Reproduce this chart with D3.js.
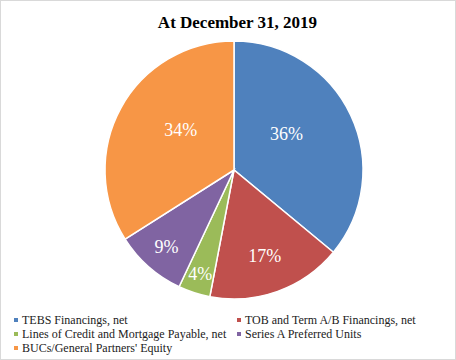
<!DOCTYPE html>
<html><head><meta charset="utf-8">
<script src="https://cdn.jsdelivr.net/npm/d3@7"></script>
<style>html,body{margin:0;padding:0;background:#fff;} text{font-family:"Liberation Serif","Times New Roman",serif;}</style>
</head><body>
<svg id="c" width="456" height="360"></svg>
<script>
const categories = ["TEBS Financings, net","TOB and Term A/B Financings, net","Lines of Credit and Mortgage Payable, net","Series A Preferred Units","BUCs/General Partners' Equity"];
const values = [36, 17, 4, 9, 34];
const colors = ["#4F81BD","#C0504D","#9BBB59","#8064A2","#F79646"];
const title = "At December 31, 2019";

const svg = d3.select("#c");
svg.append("rect").attr("x",0.5).attr("y",0.5).attr("width",455).attr("height",359)
  .attr("fill","#fff").attr("stroke","#d9d9d9");

svg.append("text").attr("x",237.5).attr("y",28).attr("text-anchor","middle")
  .attr("font-weight","bold").attr("font-size",17)
  .text(title);

const cx = 234, cy = 170, r = 129;
const total = d3.sum(values);
const pie = d3.pie().sort(null).value(d=>d)(values);
const arc = d3.arc().innerRadius(0).outerRadius(r);
const g = svg.append("g").attr("transform",`translate(${cx},${cy})`);
g.selectAll("path").data(pie).join("path")
  .attr("d",arc).attr("fill",(d,i)=>colors[i])
  .attr("stroke","#fff").attr("stroke-width",1.5);

g.selectAll("text.lbl").data(pie).join("text").attr("class","lbl")
  .attr("transform",d=>{
    const f = d.value/total;
    const lr = r*(0.89 - f*1.1);
    let a = (d.startAngle+d.endAngle)/2;
    const s = Math.max(0, f-0.2)*1.0;
    a = a < Math.PI ? a - s : a + s;
    return `translate(${lr*Math.sin(a)},${-lr*Math.cos(a)})`;
  })
  .attr("text-anchor","middle").attr("dy","0.35em")
  .attr("font-size",18).attr("fill","#fff")
  .text(d=>Math.round(d.value/total*100)+"%");

const leg = svg.append("g");
const lx = [14, 237], ly0 = 320, ldy = 14;
categories.forEach((c,i)=>{
  const x = lx[i%2], y = ly0 + Math.floor(i/2)*ldy;
  leg.append("rect").attr("x",x).attr("y",y-2).attr("width",4).attr("height",4).attr("fill",colors[i]);
  leg.append("text").attr("x",x+8).attr("y",y).attr("dy","0.35em")
    .attr("font-size",12).attr("fill","#222").text(c);
});
</script>
</body></html>
